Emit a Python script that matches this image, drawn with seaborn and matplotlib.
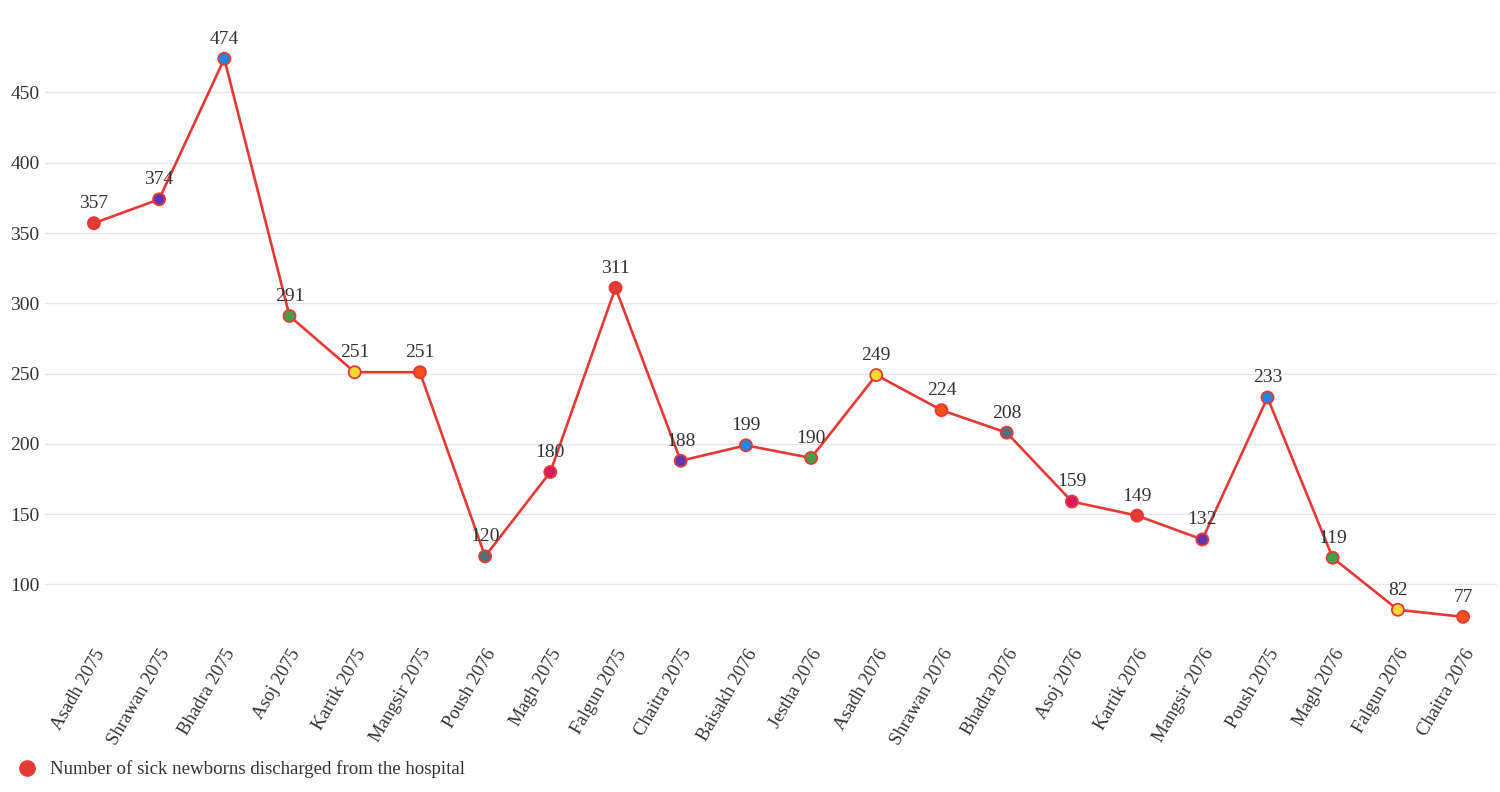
import numpy as np
import pandas as pd
import matplotlib
matplotlib.use("Agg")
import matplotlib.pyplot as plt
import seaborn as sns
from matplotlib.lines import Line2D

# data
months = ["Asadh 2075", "Shrawan 2075", "Bhadra 2075", "Asoj 2075", "Kartik 2075",
          "Mangsir 2075", "Poush 2076", "Magh 2075", "Falgun 2075", "Chaitra 2075",
          "Baisakh 2076", "Jestha 2076", "Asadh 2076", "Shrawan 2076", "Bhadra 2076",
          "Asoj 2076", "Kartik 2076", "Mangsir 2076", "Poush 2075", "Magh 2076",
          "Falgun 2076", "Chaitra 2076"]
discharged = [357, 374, 474, 291, 251, 251, 120, 180, 311, 188, 199, 190, 249,
              224, 208, 159, 149, 132, 233, 119, 82, 77]
series_name = "Number of sick newborns discharged from the hospital"

# marker colour cycle
point_colors = ["#e53935", "#5e35b1", "#1e88e5", "#43a047", "#fdd835",
                "#f4511e", "#546e7a", "#d81b60"]

sns.set_theme(style="white")
plt.rcParams["font.family"] = ["Liberation Serif", "DejaVu Serif"]

df = pd.DataFrame({"month": months, "value": discharged})
df["pos"] = np.arange(len(df))
df["col"] = [point_colors[i % len(point_colors)] for i in range(len(df))]

fig = plt.figure(figsize=(15, 7.92), dpi=100)
ax = fig.add_axes([0.03, 0.191, 0.968, 0.781])

line_red = "#e53935"
sns.lineplot(data=df, x="pos", y="value", color=line_red, linewidth=1.9, ax=ax, zorder=2)
ax.scatter(df["pos"], df["value"], c=df["col"], s=75, edgecolors=line_red,
           linewidths=1.3, zorder=3)

for _, r in df.iterrows():
    ax.annotate(str(r["value"]), (r["pos"], r["value"]), xytext=(0, 8),
                textcoords="offset points", ha="center", va="bottom",
                fontsize=14, color="#333333")

ax.set_xlim(-0.75, 21.52)
ax.set_ylim(60, 500)
ax.set_yticks(range(100, 451, 50))
ax.set_xticks(df["pos"])
ax.set_xticklabels(df["month"], rotation=60, ha="right", rotation_mode="anchor")
ax.tick_params(axis="y", labelsize=14, colors="#333333", length=0, pad=4)
ax.tick_params(axis="x", labelsize=13.5, colors="#333333", length=0, pad=4)
ax.yaxis.grid(True, color="#e6e6e6", linewidth=1)
ax.xaxis.grid(False)
ax.set_xlabel("")
ax.set_ylabel("")
for s in ax.spines.values():
    s.set_visible(False)

handle = Line2D([], [], marker="o", linestyle="", markersize=11,
                markerfacecolor=line_red, markeredgecolor=line_red)
fig.legend([handle], [series_name], loc="lower left", bbox_to_anchor=(-0.006, -0.004),
           frameon=False, fontsize=13.6, handletextpad=0.2, labelcolor="#333333")

fig.savefig("out.png", dpi=100)
